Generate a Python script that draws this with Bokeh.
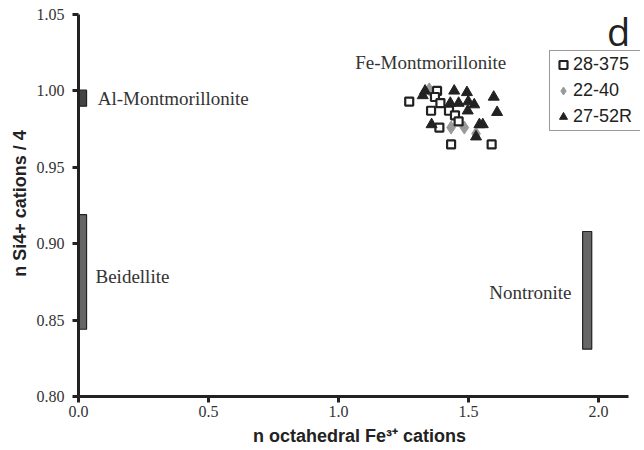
from bokeh.plotting import figure
from bokeh.models import (Range1d, FixedTicker, PrintfTickFormatter, Label,
                          Legend, LegendItem)
from bokeh.embed import file_html
from bokeh.resources import INLINE

# ---- data ----
sq_x = [1.272, 1.379, 1.371, 1.392, 1.356, 1.425, 1.448, 1.388, 1.462, 1.433, 1.589]
sq_y = [0.993, 1.000, 0.996, 0.992, 0.987, 0.987, 0.984, 0.976, 0.980, 0.965, 0.965]

tri_x = [1.324, 1.333, 1.445, 1.494, 1.597, 1.430, 1.462, 1.499, 1.522, 1.497,
         1.610, 1.358, 1.542, 1.555, 1.529]
tri_y = [0.997, 1.000, 1.000, 0.999, 0.996, 0.992, 0.992, 0.993, 0.991, 0.987,
         0.986, 0.978, 0.978, 0.978, 0.970]

dia_x = [1.349, 1.433, 1.484, 1.529]
dia_y = [1.001, 0.976, 0.976, 0.972]

series_names = ["28-375", "22-40", "27-52R"]

field_names = ["Al-Montmorillonite", "Beidellite", "Nontronite", "Fe-Montmorillonite"]
field_left = [0.0, 0.0, 1.939]
field_right = [0.031, 0.031, 1.974]
field_bottom = [0.990, 0.844, 0.831]
field_top = [1.0005, 0.919, 0.908]
field_colors = ["#444444", "#666666", "#666666"]

x_ticks = [0.0, 0.5, 1.0, 1.5, 2.0]
y_ticks = [0.80, 0.85, 0.90, 0.95, 1.00, 1.05]

# ---- figure ----
p = figure(frame_width=562, frame_height=386,
           min_border_left=78, min_border_right=4,
           min_border_top=10, min_border_bottom=54,
           x_range=Range1d(0, 562 / 260), y_range=Range1d(0.80, 0.80 + 386 / 1528),
           output_backend="svg", toolbar_location=None,
           background_fill_color="white", border_fill_color="white")
p.outline_line_color = None
p.xgrid.visible = False
p.ygrid.visible = False

for ax in (p.xaxis[0], p.yaxis[0]):
    ax.axis_line_width = 3
    ax.axis_line_color = "#222222"
    ax.major_tick_line_width = 3
    ax.major_tick_line_color = "#222222"
    ax.major_tick_out = 6
    ax.major_tick_in = 0
    ax.minor_tick_line_color = None
    ax.major_label_text_font = "Liberation Serif"
    ax.major_label_text_font_size = "16px"
    ax.major_label_text_color = "#333333"
    ax.axis_label_text_font = "Liberation Sans"
    ax.axis_label_text_font_style = "bold"
    ax.axis_label_text_font_size = "18px"
    ax.axis_label_text_color = "#222222"

p.xaxis.bounds = (0, 2.115)
p.yaxis.bounds = (0.80, 1.05)
p.xaxis.ticker = FixedTicker(ticks=x_ticks)
p.yaxis.ticker = FixedTicker(ticks=y_ticks)
p.xaxis.formatter = PrintfTickFormatter(format="%.1f")
p.yaxis.formatter = PrintfTickFormatter(format="%.2f")
p.xaxis.major_label_standoff = 3
p.yaxis.major_label_standoff = 8
p.xaxis.axis_label = "n octahedral Fe\u00b3\u207a cations"
p.yaxis.axis_label = "n Si4+ cations / 4"
p.xaxis.axis_label_standoff = 6
p.yaxis.axis_label_standoff = 4

# field bars
p.quad(left=field_left, right=field_right, bottom=field_bottom, top=field_top,
       fill_color=field_colors, line_color="#222222", line_width=1.2)

# scatter series
r_dia = p.scatter(dia_x, dia_y, marker="diamond", size=13,
                  fill_color="#9a9a9a", line_color="#9a9a9a")
r_sq = p.scatter(sq_x, sq_y, marker="square", size=8,
                 fill_color="white", line_color="#222222", line_width=2.2)
r_tri = p.scatter(tri_x, tri_y, marker="triangle", size=11,
                  fill_color="#222222", line_color="#222222", line_width=1)

legend = Legend(items=[LegendItem(label=series_names[0], renderers=[r_sq]),
                       LegendItem(label=series_names[1], renderers=[r_dia]),
                       LegendItem(label=series_names[2], renderers=[r_tri])],
                location=(471, 265))
legend.label_text_font = "Liberation Sans"
legend.label_text_font_size = "18px"
legend.label_text_color = "#222222"
legend.border_line_color = "#333333"
legend.border_line_width = 1.5
legend.padding = 3
legend.spacing = 5
legend.glyph_width = 20
legend.glyph_height = 21
legend.label_standoff = 0
legend.label_height = 21
legend.label_width = 64
legend.margin = 0
p.add_layout(legend)

# field labels
serif = dict(text_font="Liberation Serif", text_font_size="19px",
             text_color="#333333", text_baseline="middle")
p.add_layout(Label(x=0.0742, y=0.9952, text=field_names[0], text_align="left", **serif))
p.add_layout(Label(x=0.0654, y=0.8787, text=field_names[1], text_align="left", **serif))
p.add_layout(Label(x=1.8962, y=0.8683, text=field_names[2], text_align="right", **serif))
p.add_layout(Label(x=1.3546, y=1.0188, text=field_names[3], text_align="center", **serif))

# panel letter
p.add_layout(Label(x=2.077, y=1.0395, text="d", text_align="center",
                   text_baseline="alphabetic", text_font="Open Sans",
                   text_font_size="38px", text_color="#222222"))

open("out.html", "w").write(file_html(p, INLINE))
